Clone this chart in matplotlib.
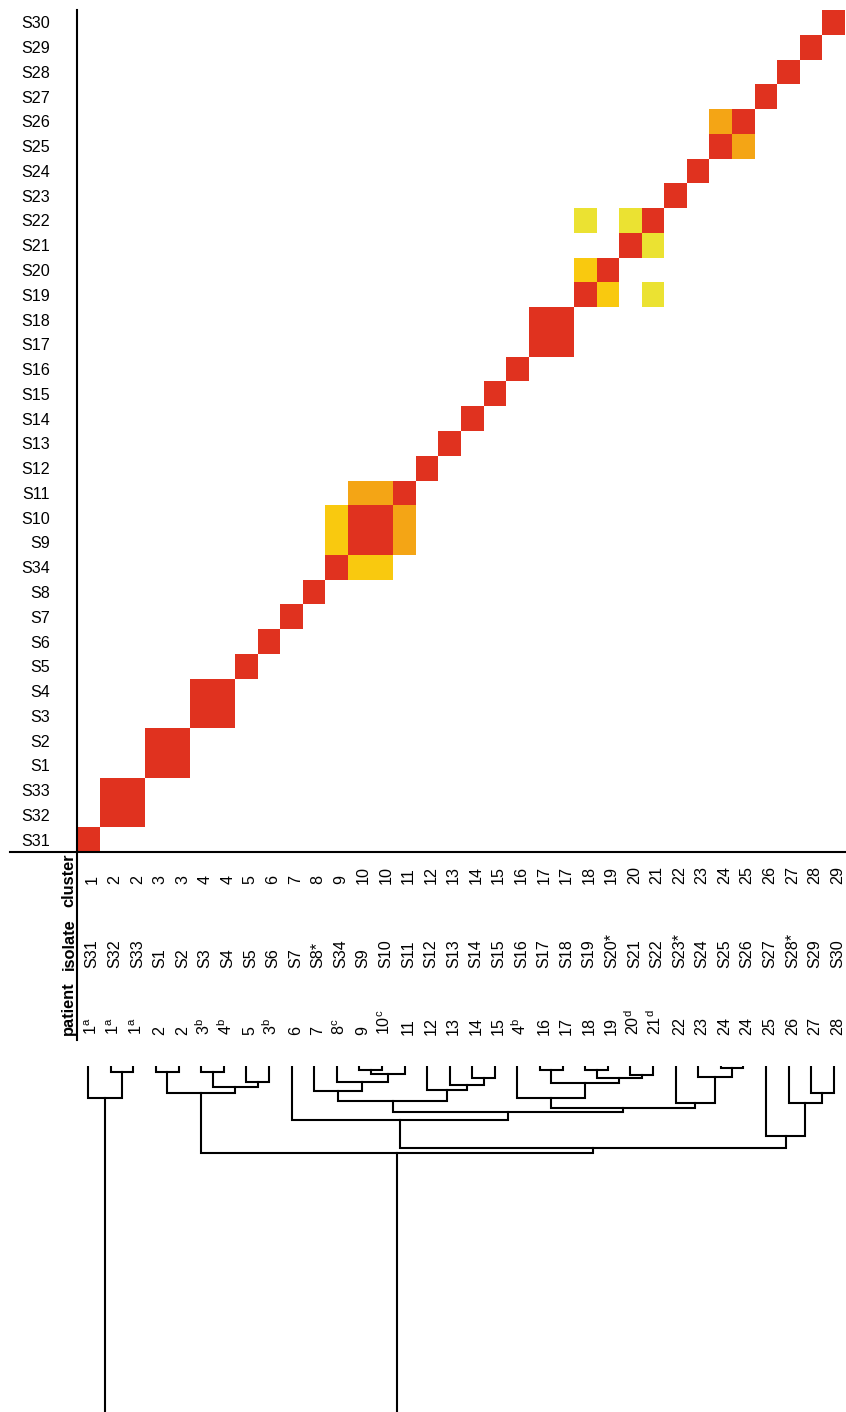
import numpy as np
import matplotlib
matplotlib.use('Agg')
import matplotlib.pyplot as plt
from matplotlib.colors import ListedColormap
from matplotlib.lines import Line2D

plt.rcParams['font.family'] = 'Liberation Sans'
plt.rcParams['font.size'] = 11.6
plt.rcParams['mathtext.fontset'] = 'custom'
plt.rcParams['mathtext.rm'] = 'Liberation Sans'

# isolates in dendrogram order (left -> right, bottom -> top)
isolates = ['S31', 'S32', 'S33', 'S1', 'S2', 'S3', 'S4', 'S5', 'S6', 'S7',
            'S8', 'S34', 'S9', 'S10', 'S11', 'S12', 'S13', 'S14', 'S15', 'S16',
            'S17', 'S18', 'S19', 'S20', 'S21', 'S22', 'S23', 'S24', 'S25', 'S26',
            'S27', 'S28', 'S29', 'S30']
starred = ['S8', 'S20', 'S23', 'S28']
clusters = [1, 2, 2, 3, 3, 4, 4, 5, 6, 7, 8, 9, 10, 10, 11, 12, 13, 14, 15, 16,
            17, 17, 18, 19, 20, 21, 22, 23, 24, 25, 26, 27, 28, 29]
patients = ['1', '1', '1', '2', '2', '3', '4', '5', '3', '6', '7', '8', '9', '10',
            '11', '12', '13', '14', '15', '4', '16', '17', '18', '19', '20', '21',
            '22', '23', '24', '24', '25', '26', '27', '28']
patient_sup = ['a', 'a', 'a', '', '', 'b', 'b', '', 'b', '', '', 'c', '', 'c',
               '', '', '', '', '', 'b', '', '', '', '', 'd', 'd',
               '', '', '', '', '', '', '', '']

# similarity level between isolate pairs (diagonal = 4)
pair_a = ['S32', 'S1', 'S3', 'S9', 'S17', 'S9', 'S10', 'S34', 'S34', 'S19', 'S19', 'S21', 'S25']
pair_b = ['S33', 'S2', 'S4', 'S10', 'S18', 'S11', 'S11', 'S9', 'S10', 'S20', 'S22', 'S22', 'S26']
pair_level = [4, 4, 4, 4, 4, 3, 3, 2, 2, 2, 1, 1, 3]

level_colors = ['#FFFFFF', '#EBE232', '#F9C90F', '#F4A515', '#E0321F']

# dendrogram merges: (left, right, height); ints refer to earlier merges
merge_left = ['S32', 'S31', 'S1', 'S3', 'S5', 3, 2, 'S9', 7, 'S34', 'S8',
              'S14', 'S13', 'S12', 10, 'S17', 'S19', 'S21', 16, 15, 'S16',
              'S25', 'S24', 'S23', 20, 14, 'S7', 'S29', 'S28', 'S27', 26, 6, 1]
merge_right = ['S33', 0, 'S2', 'S4', 'S6', 4, 5, 'S10', 'S11', 8, 9,
               'S15', 11, 12, 13, 'S18', 'S20', 'S22', 17, 18, 19,
               'S26', 21, 22, 23, 24, 25, 'S30', 27, 28, 29, 30, 31]
merge_height = [6, 32, 6, 6, 16, 21, 27, 4, 8, 16, 25,
                12, 19, 24, 35, 4, 4, 9, 12, 17, 32,
                2, 11, 37, 42, 46, 54, 27, 37, 70, 82, 87, 400]

W, H = 846, 1412


def rect(x0, y0, x1, y1):
    """pixel box (top-left origin) -> figure fraction"""
    return [x0 / W, 1 - y1 / H, (x1 - x0) / W, (y1 - y0) / H]


def main():
    n = len(isolates)
    idx = {s: i for i, s in enumerate(isolates)}

    mat = np.zeros((n, n))
    np.fill_diagonal(mat, 4)
    for a, b, lv in zip(pair_a, pair_b, pair_level):
        mat[idx[a], idx[b]] = lv
        mat[idx[b], idx[a]] = lv

    fig = plt.figure(figsize=(W / 100, H / 100), dpi=100)

    # heatmap
    ax = fig.add_axes(rect(77, 10, 845, 852))
    ax.pcolormesh(np.arange(n + 1), np.arange(n + 1), mat,
                  cmap=ListedColormap(level_colors), vmin=-0.5, vmax=4.5)
    ax.set_xlim(0, n)
    ax.set_ylim(0, n)
    ax.set_xticks([])
    ax.set_yticks(np.arange(n) + 0.5, isolates)
    ax.tick_params(axis='y', length=0, pad=19.5)
    for sp in ax.spines.values():
        sp.set_visible(False)

    # label table below heatmap
    lab = fig.add_axes(rect(77, 852, 845, 1040))
    lab.set_xlim(0, n)
    lab.set_ylim(188, 0)
    lab.axis('off')
    for i in range(n):
        x = i + 0.87
        lab.text(x, 32, str(clusters[i]), rotation=90, rotation_mode='anchor',
                 ha='left', va='baseline')
        name = isolates[i] + ('*' if isolates[i] in starred else '')
        lab.text(x, 116, name, rotation=90, rotation_mode='anchor',
                 ha='left', va='baseline')
        p = patients[i]
        if patient_sup[i]:
            p = p + r'$^{\mathregular{' + patient_sup[i] + '}}$'
        lab.text(x, 183, p, rotation=90, rotation_mode='anchor',
                 ha='left', va='baseline')
    for txt, y in [('cluster', 55), ('isolate', 118), ('patient', 183)]:
        lab.text(-0.16, y, txt, rotation=90, rotation_mode='anchor',
                 ha='left', va='baseline', fontweight='bold', fontsize=11.8)

    # axis lines
    fig.add_artist(Line2D([77 / W, 77 / W], [1 - 10 / H, 1 - 1040 / H],
                          color='black', lw=1.5, transform=fig.transFigure))
    fig.add_artist(Line2D([10 / W, 845 / W], [1 - 852 / H, 1 - 852 / H],
                          color='black', lw=1.5, transform=fig.transFigure))

    # dendrogram
    dax = fig.add_axes(rect(77, 1066, 845, 1412))
    dax.set_xlim(0, n)
    dax.set_ylim(346, 0)
    dax.axis('off')
    pos = []

    def node(k):
        if isinstance(k, str):
            return idx[k] + 0.5, 0
        return pos[k]

    for a, b, h in zip(merge_left, merge_right, merge_height):
        xa, ha = node(a)
        xb, hb = node(b)
        dax.plot([xa, xa, xb, xb], [ha, h, h, hb], color='black', lw=1.5,
                 solid_joinstyle='miter')
        pos.append(((xa + xb) / 2, h))

    fig.savefig('out.png', dpi=100)


if __name__ == "__main__":
    main()
